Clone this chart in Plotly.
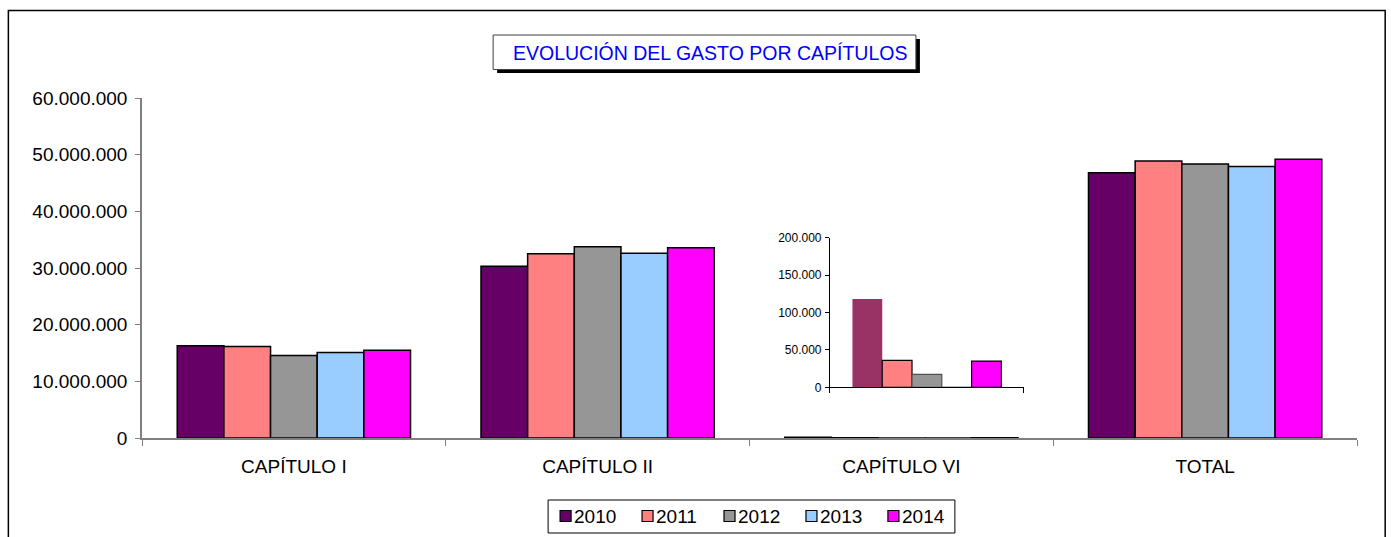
import plotly.graph_objects as go

# Spending per chapter, euros
categories = ["CAPÍTULO I", "CAPÍTULO II", "CAPÍTULO VI", "TOTAL"]
years = ["2010", "2011", "2012", "2013", "2014"]
values_2010 = [16300000, 30330000, 118000, 46800000]
values_2011 = [16150000, 32500000, 36000, 48900000]
values_2012 = [14550000, 33750000, 17400, 48360000]
values_2013 = [15080000, 32600000, 0, 47900000]
values_2014 = [15490000, 33570000, 35000, 49200000]
series = [values_2010, values_2011, values_2012, values_2013, values_2014]

colors = ["#660066", "#FF8080", "#969696", "#99CCFF", "#FF00FF"]
inset_colors = ["#993366", "#FF8080", "#969696", "#99CCFF", "#FF00FF"]
inset_line_colors = ["#993366", "#000000", "#505050", "#000000", "#000000"]
inset_line_widths = [0, 1.2, 1.2, 1.2, 1.2]

W, H = 1391, 537
L, R, T, B = 141.7, 1357.3, 98.0, 438.0


def px(x):
    return (x - L) / (R - L)


def py(y):
    return (B - y) / (B - T)


FONT = "Liberation Sans, Arial, sans-serif"
fig = go.Figure()

# main grouped bars
for i, yr in enumerate(years):
    fig.add_trace(go.Bar(
        x=categories, y=series[i], name=yr,
        marker=dict(color=colors[i], line=dict(color="#000000", width=1.5)),
        xaxis="x", yaxis="y", showlegend=False,
    ))

# inset detail for CAPÍTULO VI
cap_vi = categories[2]
for i, yr in enumerate(years):
    fig.add_trace(go.Bar(
        x=[cap_vi], y=[series[i][2]], name=yr, showlegend=False,
        marker=dict(color=inset_colors[i],
                    line=dict(color=inset_line_colors[i], width=inset_line_widths[i])),
        xaxis="x2", yaxis="y2",
    ))

shapes = [
    # outer frame
    dict(type="rect", xref="paper", yref="paper",
         x0=px(8), x1=px(1385.5), y0=py(10.5), y1=py(545),
         line=dict(color="#000000", width=1.5), fillcolor="rgba(0,0,0,0)", layer="above"),
    # title box shadow
    dict(type="rect", xref="paper", yref="paper",
         x0=px(497), x1=px(920), y0=py(39), y1=py(73),
         line=dict(width=0), fillcolor="#000000"),
    # title box
    dict(type="rect", xref="paper", yref="paper",
         x0=px(493), x1=px(916), y0=py(35), y1=py(69.5),
         line=dict(color="#404040", width=1), fillcolor="#FFFFFF"),
    # legend box
    dict(type="rect", xref="paper", yref="paper",
         x0=px(548), x1=px(955), y0=py(500), y1=py(533),
         line=dict(color="#000000", width=1), fillcolor="#FFFFFF"),
]

annotations = [
    dict(text="EVOLUCIÓN DEL GASTO POR CAPÍTULOS", xref="paper", yref="paper",
         x=px(511), y=py(53), xanchor="left", yanchor="middle", showarrow=False,
         font=dict(family=FONT, size=19.5, color="#0000FF")),
]

# legend entries: square swatch followed by the year
legend_x = [560, 642, 724, 806, 888]
for i, yr in enumerate(years):
    x0 = legend_x[i]
    shapes.append(dict(type="rect", xref="paper", yref="paper",
                       x0=px(x0), x1=px(x0 + 11), y0=py(510.5), y1=py(521.5),
                       line=dict(color="#000000", width=1.2), fillcolor=colors[i]))
    annotations.append(dict(text=yr, xref="paper", yref="paper",
                            x=px(x0 + 12), y=py(516.5), xanchor="left", yanchor="middle",
                            showarrow=False,
                            font=dict(family=FONT, size=19, color="#000000")))

fig.update_layout(
    width=W, height=H,
    margin=dict(l=L, r=W - R, t=T, b=H - B, pad=0, autoexpand=False),
    paper_bgcolor="#FFFFFF", plot_bgcolor="rgba(0,0,0,0)",
    separators=",.",
    barmode="group", bargap=0.232, bargroupgap=0,
    font=dict(family=FONT, size=19, color="#000000"),
    showlegend=False,
    xaxis=dict(domain=[0, 1], type="category", showgrid=False, showline=True,
               linecolor="#808080", linewidth=1.5, ticks="outside", tickson="boundaries",
               ticklen=6, tickcolor="#808080", tickwidth=1,
               tickfont=dict(family=FONT, size=19, color="#000000"),
               ticklabelstandoff=10, zeroline=False, automargin=False),
    yaxis=dict(domain=[0, 1], range=[0, 60000000], dtick=10000000, tickformat=",.0f",
               showgrid=False, showline=True, linecolor="#808080", linewidth=1.5,
               ticks="outside", ticklen=5, tickcolor="#808080",
               tickfont=dict(family=FONT, size=19, color="#000000"),
               ticklabelstandoff=4, zeroline=False, automargin=False),
    xaxis2=dict(domain=[px(830), px(1024)], anchor="y2", type="category",
                showgrid=False, showline=True, linecolor="#000000", linewidth=1,
                ticks="outside", tickson="boundaries", ticklen=5, tickcolor="#000000",
                showticklabels=False, zeroline=False),
    yaxis2=dict(domain=[py(387.3), py(237.7)], anchor="x2", range=[0, 200000],
                dtick=50000, tickformat=",.0f", showgrid=False, showline=True,
                linecolor="#000000", linewidth=1, ticks="outside", ticklen=4,
                tickcolor="#000000", tickfont=dict(family=FONT, size=12, color="#000000"),
                ticklabelstandoff=1, zeroline=False),
    shapes=shapes, annotations=annotations,
)

fig.write_html("out.html")
